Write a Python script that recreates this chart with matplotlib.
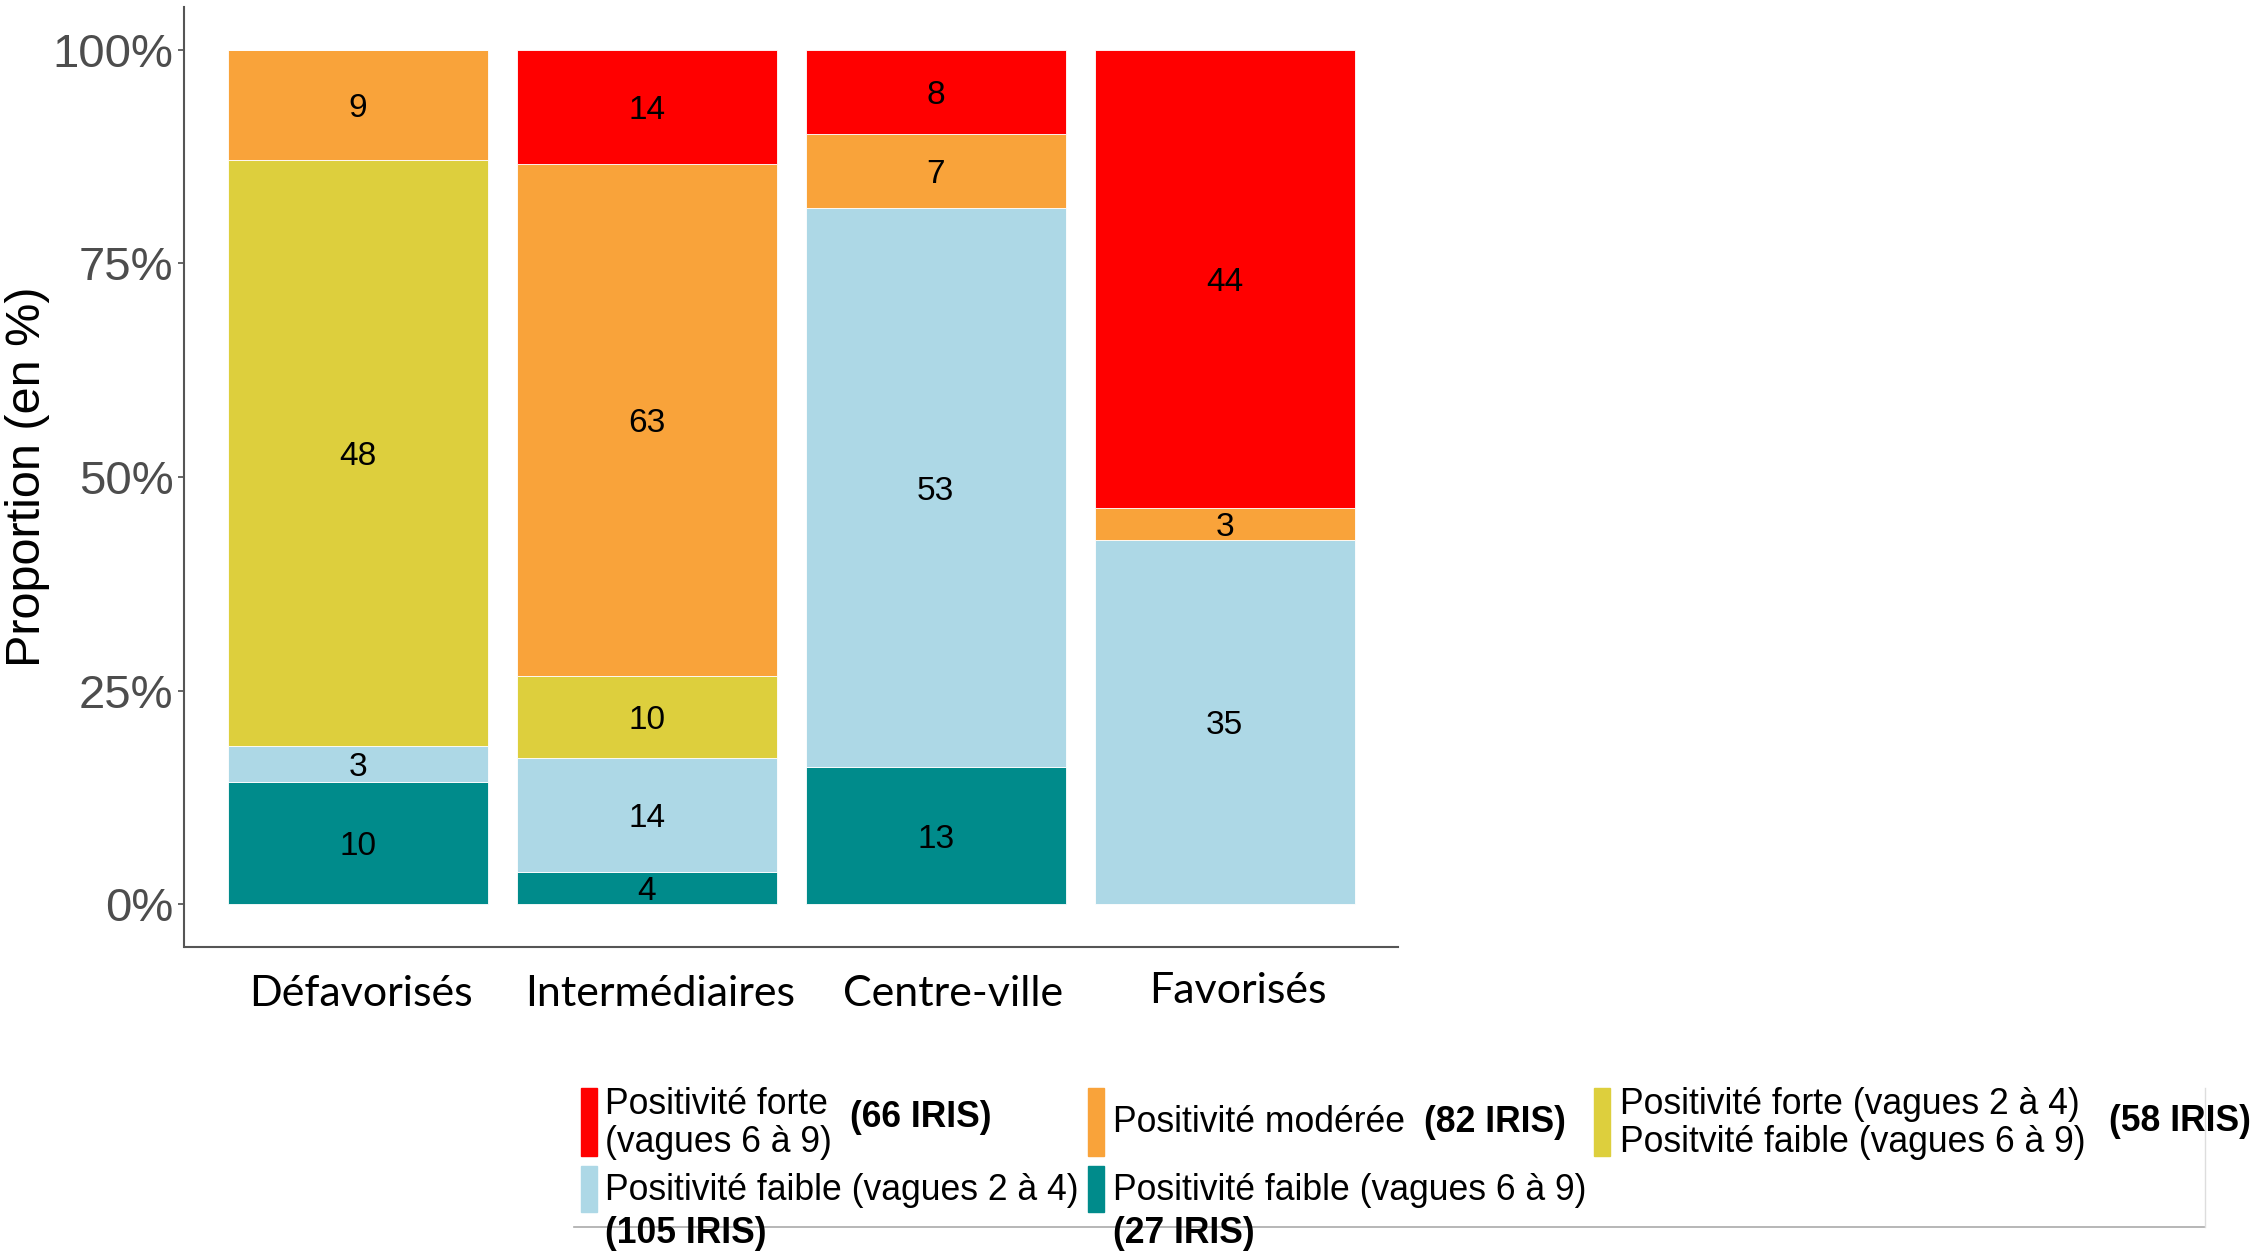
import matplotlib
matplotlib.use("Agg")
import matplotlib.pyplot as plt
import numpy as np
from matplotlib.patches import Rectangle

categories = ["Défavorisés", "Intermédiaires", "Centre-ville", "Favorisés"]
# counts per group, stacked bottom -> top
faible_6_9 = [10, 4, 13, 0]
faible_2_4 = [3, 14, 53, 35]
forte_2_4 = [48, 10, 0, 0]
moderee = [9, 63, 7, 3]
forte_6_9 = [0, 14, 8, 44]

series = [faible_6_9, faible_2_4, forte_2_4, moderee, forte_6_9]
colors = ["#008B8B", "#ADD8E6", "#DDCF3D", "#F9A33A", "#FF0000"]
yticks = [0, 0.25, 0.5, 0.75, 1.0]
ytick_labels = ["0%", "25%", "50%", "75%", "100%"]

W, H = 2260, 1253
fig = plt.figure(figsize=(W / 100, H / 100), dpi=100)
ax = fig.add_axes([184.5 / W, 1 - 947 / H, (1398 - 184.5) / W, (947 - 7) / H])

data = np.array(series, dtype=float)
totals = data.sum(axis=0)
props = data / totals
x = np.arange(1, len(categories) + 1)
bottom = np.zeros(len(categories))
for vals, p, c in zip(data, props, colors):
    ax.bar(x, p, bottom=bottom, width=0.9, color=c, edgecolor="white", linewidth=0.6)
    for xi, v, pi, b in zip(x, vals, p, bottom):
        if v > 0:
            ax.text(xi, b + pi / 2, f"{int(v)}", ha="center", va="center_baseline",
                    fontsize=24, family="Liberation Sans", color="black")
    bottom += p

ax.set_xlim(0.4, 4.6)
ax.set_ylim(-0.05, 1.05)
ax.set_yticks(yticks)
ax.set_yticklabels(ytick_labels, fontsize=34, family="Liberation Sans", color="#4D4D4D")
ax.tick_params(axis="y", length=4, width=1.2, color="#4D4D4D", pad=4)
ax.set_xticks([])
for s in ["top", "right"]:
    ax.spines[s].set_visible(False)
for s in ["left", "bottom"]:
    ax.spines[s].set_color("#555555")
    ax.spines[s].set_linewidth(1.5)
ax.set_ylabel("Proportion (en %)", fontsize=35, family="Liberation Sans", color="black", labelpad=2)

# category labels
offsets = [0.01, 0.045, 0.06, 0.045]
yoff = [0, 0, 0, 0.004]
for xi, cat, o, yo in zip(x, categories, offsets, yoff):
    ax.text(xi + o, -0.105 + yo, cat, ha="center", va="center", fontsize=31,
            family="Lato", color="black")

# legend (figure coordinates in pixels from top-left)
def fx(px):
    return px / W

def fy(py):
    return 1 - py / H

s = 2260 / 1568
legend_font = dict(family="Liberation Sans", fontsize=25.6, color="black")
bold_font = dict(family="Liberation Sans", fontsize=25.6, color="black", fontweight="bold")
counts = [int(v) for v in data.sum(axis=1)]  # teal, lightblue, yellow, orange, red

entries = [
    (4, (403, 755, 802), [(420, 766, "Positivité forte"), (420, 793, "(vagues 6 à 9)")], (590, 775)),
    (3, (755, 755, 802), [(772, 779, "Positivité modérée")], (988, 779)),
    (2, (1106, 755, 802), [(1124, 766, "Positivité forte (vagues 2 à 4)"), (1124, 793, "Positvité faible (vagues 6 à 9)")], (1463, 778)),
    (1, (403, 809, 841), [(420, 826, "Positivité faible (vagues 2 à 4)")], (420, 856)),
    (0, (755, 809, 841), [(772, 826, "Positivité faible (vagues 6 à 9)")], (772, 856)),
]
for ci, (px, pt, pb), lines, (bx, by) in entries:
    fig.patches.append(Rectangle((fx(px * s), fy(pb * s)), 11 * s / W, (pb - pt) * s / H,
                                 transform=fig.transFigure, color=colors[ci]))
    for tx, ty, t in lines:
        fig.text(fx(tx * s), fy(ty * s), t, ha="left", va="center", **legend_font)
    fig.text(fx(bx * s), fy(by * s), f"({counts[ci]} IRIS)", ha="left", va="center", **bold_font)

# legend frame lines
fig.add_artist(plt.Line2D([fx(398 * s), fx(1530 * s)], [fy(851 * s), fy(851 * s)],
                          transform=fig.transFigure, color="#AAAAAA", linewidth=1.2))
fig.add_artist(plt.Line2D([fx(1530 * s), fx(1530 * s)], [fy(755 * s), fy(851 * s)],
                          transform=fig.transFigure, color="#DDDDDD", linewidth=1.0))

fig.savefig("out.png", dpi=100)
